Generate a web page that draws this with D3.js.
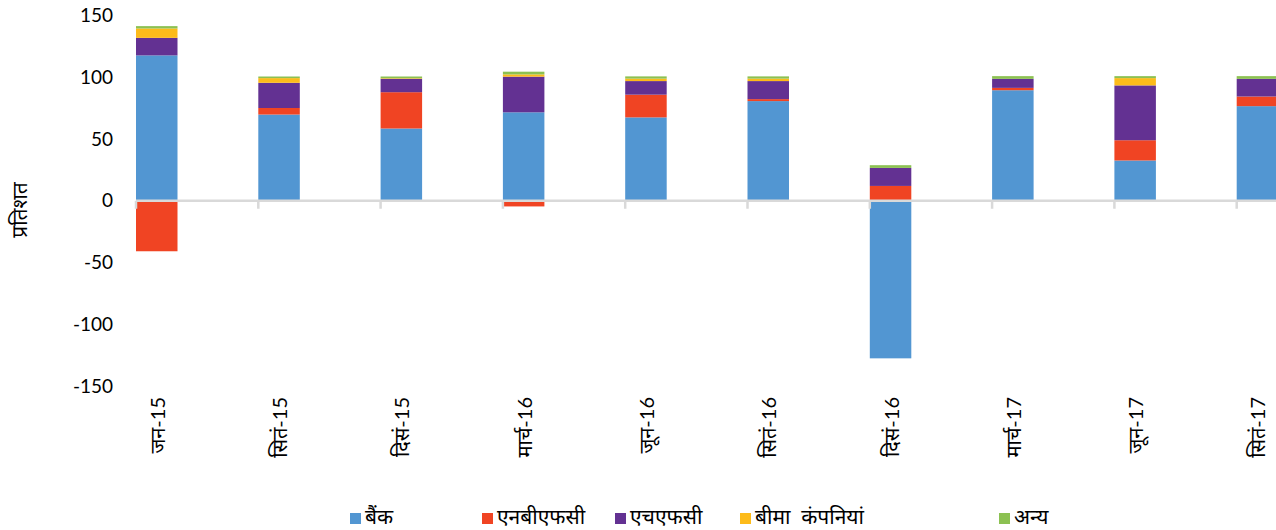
<!DOCTYPE html>
<html lang="hi">
<head>
<meta charset="utf-8">
<script src="https://cdn.jsdelivr.net/npm/d3@7/dist/d3.min.js"></script>
<style>
  body { margin: 0; background: #fff; }
  svg { display: block; font-family: "Lato", "Noto Sans", sans-serif; }
</style>
</head>
<body>
<svg id="chart" width="1276" height="530"></svg>
<script>
// data
var categories = ["जन-15", "सितं-15", "दिसं-15", "मार्च-16", "जून-16", "सितं-16", "दिसं-16", "मार्च-17", "जून-17", "सितं-17"];
var seriesNames = ["बैंक", "एनबीएफसी", "एचएफसी", "बीमा  कंपनियां", "अन्य"];
var seriesColors = ["#5296d2", "#f04423", "#633192", "#fdbb1a", "#8cc152"];
var bank      = [117.7, 69.8, 58.5, 71.6, 67.5, 80.7, -127.6, 89.5, 32.6, 76.6];
var nbfc      = [-40.9, 5.3, 29.4, -4.6, 18.4, 1.6, 12.0, 1.9, 16.4, 7.8];
var hfc       = [14.2, 20.4, 10.8, 28.9, 11.0, 14.6, 14.6, 7.3, 44.4, 14.3];
var insurance = [7.6, 3.8, 0.5, 1.8, 2.0, 2.0, 0, 0, 5.9, 0];
var others    = [1.9, 1.3, 1.4, 2.2, 1.8, 1.8, 2.2, 2.2, 1.6, 2.2];
var yTicks = [-150, -100, -50, 0, 50, 100, 150];

var svg = d3.select("#chart");
var keys = ["bank", "nbfc", "hfc", "insurance", "others"];
var rows = categories.map(function(c, i) {
  return { cat: c, bank: bank[i], nbfc: nbfc[i], hfc: hfc[i], insurance: insurance[i], others: others[i] };
});

var x = d3.scaleBand().domain(categories).range([136, 136 + 10 * 122.3]).paddingInner(0).paddingOuter(0);
var y = d3.scaleLinear().domain([-150, 150]).range([386, 15.5]);
var barW = 41.5;

var stack = d3.stack().keys(keys).offset(d3.stackOffsetDiverging);
var layers = stack(rows);

svg.append("g").selectAll("g")
  .data(layers)
  .enter().append("g")
  .attr("fill", function(d, i) { return seriesColors[i]; })
  .selectAll("rect")
  .data(function(d) { return d; })
  .enter().append("rect")
  .attr("x", function(d) { return x(d.data.cat); })
  .attr("width", barW)
  .attr("y", function(d) { return y(Math.max(d[0], d[1])); })
  .attr("height", function(d) { return Math.abs(y(d[0]) - y(d[1])); });

// zero line with category ticks
var zeroY = y(0);
svg.append("line")
  .attr("x1", 136).attr("x2", 1276)
  .attr("y1", zeroY).attr("y2", zeroY)
  .attr("stroke", "#d9d9d9").attr("stroke-width", 2.5);
svg.append("g").selectAll("line")
  .data(categories)
  .enter().append("line")
  .attr("x1", function(d) { return x(d); })
  .attr("x2", function(d) { return x(d); })
  .attr("y1", zeroY).attr("y2", zeroY + 8)
  .attr("stroke", "#d9d9d9").attr("stroke-width", 2.5);

// y tick labels
svg.append("g").selectAll("text")
  .data(yTicks)
  .enter().append("text")
  .attr("x", 113)
  .attr("y", function(d) { return y(d); })
  .attr("dy", "0.35em")
  .attr("text-anchor", "end")
  .attr("font-size", 19)
  .attr("fill", "#000")
  .text(function(d) { return d; });

// y axis title
svg.append("text")
  .attr("transform", "translate(27,210) rotate(-90)")
  .attr("text-anchor", "middle")
  .attr("font-size", 21)
  .text("प्रतिशत");

// category labels
svg.append("g").selectAll("text")
  .data(categories)
  .enter().append("text")
  .attr("transform", function(d) { return "translate(" + (x(d) + barW / 2 + 8) + ",397) rotate(-90)"; })
  .attr("text-anchor", "end")
  .attr("font-size", 20)
  .text(function(d) { return d; });

// legend
var legendX = [350, 482, 615, 740, 999];
var legend = svg.append("g").selectAll("g")
  .data(seriesNames)
  .enter().append("g")
  .attr("transform", function(d, i) { return "translate(" + legendX[i] + ",512)"; });
legend.append("rect")
  .attr("width", 11).attr("height", 11)
  .attr("y", 1)
  .attr("fill", function(d, i) { return seriesColors[i]; });
legend.append("text")
  .attr("x", 15).attr("y", 12)
  .attr("font-size", 21)
  .attr("xml:space", "preserve")
  .style("white-space", "pre")
  .text(function(d) { return d; });
</script>
</body>
</html>
